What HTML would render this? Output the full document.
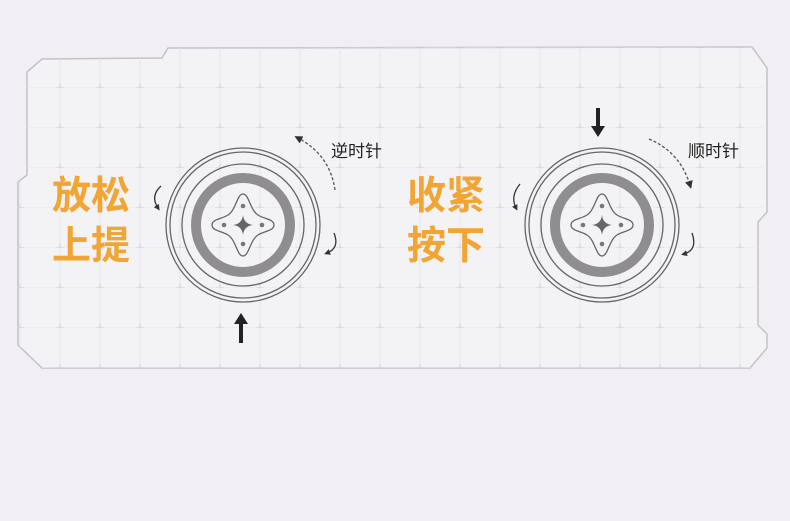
<!DOCTYPE html>
<html><head><meta charset="utf-8"><style>
html,body{margin:0;padding:0;background:#f1eff3;}
svg{display:block}
.cj{font-family:"Liberation Sans","Noto Sans CJK SC",sans-serif;}
</style></head><body>
<svg width="790" height="521" viewBox="0 0 790 521" xmlns="http://www.w3.org/2000/svg">
<defs>
<pattern id="grid" x="40" y="48" width="40" height="40" patternUnits="userSpaceOnUse">
<path d="M20 0V40M0 40H40" stroke="#e8e6ea" stroke-width="1" fill="none"/>
<path d="M16 40H24M20 36V44" stroke="#d6d4d8" stroke-width="1.2"/>
</pattern>
<marker id="ah" markerWidth="8" markerHeight="8" refX="4" refY="4" orient="auto" markerUnits="userSpaceOnUse">
<path d="M0,0 L8,4 L0,8z" fill="#333"/>
</marker>
<marker id="sh" markerWidth="6" markerHeight="6" refX="3" refY="3" orient="auto" markerUnits="userSpaceOnUse">
<path d="M0,0 L6,3 L0,6z" fill="#333"/>
</marker>
<g id="knob">
<circle r="77" fill="none" stroke="#666" stroke-width="1.3"/>
<circle r="73" fill="none" stroke="#666" stroke-width="1.3"/>
<circle r="61" fill="none" stroke="#666" stroke-width="1.3"/>
<circle r="47" fill="none" stroke="#8f8d90" stroke-width="10"/>
<path d="M0,-31 C6,-31 7,-15 15,-10 C21,-6 31,-6 31,0 C31,6 21,6 15,10 C7,15 6,31 0,31 C-6,31 -7,15 -15,10 C-21,6 -31,6 -31,0 C-31,-6 -21,-6 -15,-10 C-7,-15 -6,-31 0,-31z" fill="none" stroke="#666" stroke-width="1.3"/>
<path d="M0,-10 Q1,-1 10,0 Q1,1 0,10 Q-1,1 -10,0 Q-1,-1 0,-10z" fill="#666"/>
<circle cx="0" cy="-19" r="2.3" fill="#777"/>
<circle cx="0" cy="19" r="2.3" fill="#777"/>
<circle cx="-19" cy="0" r="2.3" fill="#777"/>
<circle cx="19" cy="0" r="2.3" fill="#777"/>
</g>
</defs>
<path d="M27,72 L42,59 L162,58 L168,48 L752,47 L767,68 L767,212 L758,222 L758,325 L767,334 L767,348 L750,368 L42,368 L18,345 L18,182 L27,175 Z" fill="#f3f2f5" stroke="#c4c2c6" stroke-width="1.5"/>
<path d="M27,72 L42,59 L162,58 L168,48 L752,47 L767,68 L767,212 L758,222 L758,325 L767,334 L767,348 L750,368 L42,368 L18,345 L18,182 L27,175 Z" fill="url(#grid)"/>

<use href="#knob" x="243" y="225"/>
<use href="#knob" x="602" y="225"/>

<path d="M335,190 Q330,155 298,138" fill="none" stroke="#555" stroke-width="1.3" stroke-dasharray="3,2" marker-end="url(#ah)"/>
<path d="M161,186 Q150,196 158,208" fill="none" stroke="#333" stroke-width="1.3" marker-end="url(#sh)"/>
<path d="M334,233 Q340,248 327,253" fill="none" stroke="#333" stroke-width="1.3" marker-end="url(#sh)"/>
<path d="M241,343 V322" stroke="#222" stroke-width="4"/>
<path d="M234,324 L241,313 L248,324z" fill="#222"/>

<path d="M649,139 Q680,152 690,185" fill="none" stroke="#555" stroke-width="1.3" stroke-dasharray="3,2" marker-end="url(#ah)"/>
<path d="M520,184 Q510,196 516,208" fill="none" stroke="#333" stroke-width="1.3" marker-end="url(#sh)"/>
<path d="M692,233 Q698,250 684,254" fill="none" stroke="#333" stroke-width="1.3" marker-end="url(#sh)"/>
<path d="M598,108 V128" stroke="#222" stroke-width="4"/>
<path d="M591,126 L598,137 L605,126z" fill="#222"/>

<g class="cj" font-weight="bold" font-size="39" fill="#f0a534">
<text x="52" y="209">放松</text>
<text x="52" y="259">上提</text>
<text x="407" y="209">收紧</text>
<text x="407" y="259">按下</text>
</g>
<g class="cj" font-size="17" fill="#222">
<text x="331" y="157">逆时针</text>
<text x="688" y="157">顺时针</text>
</g>
</svg>
</body></html>
